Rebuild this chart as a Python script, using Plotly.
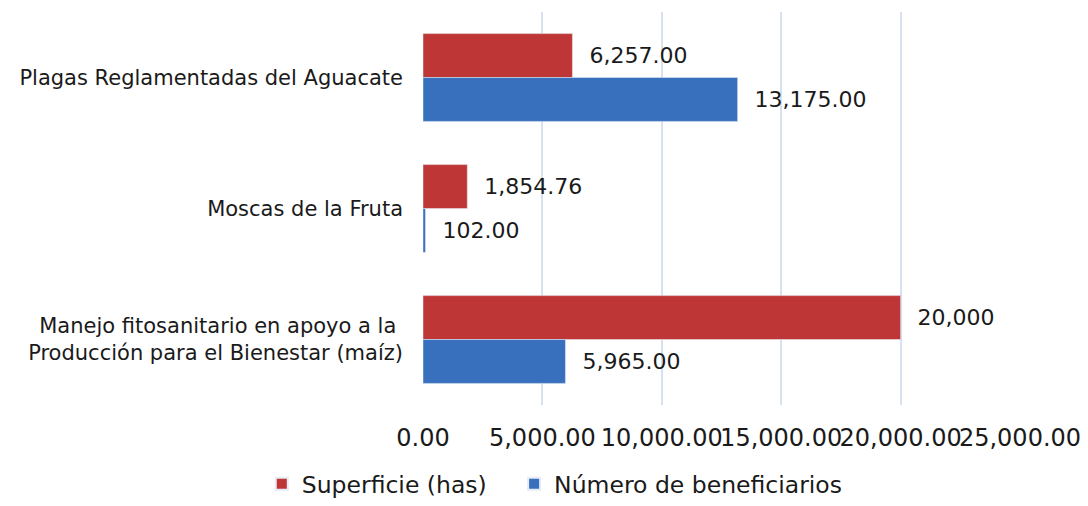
import plotly.graph_objects as go

categories = [
    "Plagas Reglamentadas del Aguacate",
    "Moscas de la Fruta",
    "Manejo fitosanitario en apoyo a la <br>Producción para el Bienestar (maíz)",
]
superficie = [6257.00, 1854.76, 20000]
beneficiarios = [13175.00, 102.00, 5965.00]
superficie_labels = ["6,257.00", "1,854.76", "20,000"]
beneficiarios_labels = ["13,175.00", "102.00", "5,965.00"]
series_names = ["Superficie (has)", "Número de beneficiarios"]
tick_vals = [0, 5000, 10000, 15000, 20000, 25000]
tick_text = ["0.00", "5,000.00", "10,000.00", "15,000.00", "20,000.00", "25,000.00"]

FONT = "DejaVu Sans"
NBSP = "\u00a0"
fig = go.Figure()
fig.add_trace(go.Bar(
    y=categories, x=superficie, orientation="h", name=series_names[0] + NBSP * 3,
    marker=dict(color="#bf3636"),
    text=["  " + t for t in superficie_labels], textposition="outside",
    textfont=dict(size=22, color="#1a1a1a", family=FONT), cliponaxis=False,
))
fig.add_trace(go.Bar(
    y=categories, x=beneficiarios, orientation="h", name=series_names[1],
    marker=dict(color="#3870bd"),
    text=["  " + t for t in beneficiarios_labels], textposition="outside",
    textfont=dict(size=22, color="#1a1a1a", family=FONT), cliponaxis=False,
))
fig.update_layout(
    width=1080, height=498,
    margin=dict(l=415, r=68, t=4, b=101),
    barmode="group", bargap=0.33, bargroupgap=0,
    plot_bgcolor="white", paper_bgcolor="white",
    font=dict(family=FONT, color="#1a1a1a"),
    legend=dict(orientation="h", xref="container", x=0.235, xanchor="left",
                yref="container", y=0.0, yanchor="bottom",
                tracegroupgap=0, itemsizing="constant",
                font=dict(size=23.5, family=FONT), traceorder="normal"),
)
fig.update_xaxes(
    range=[0, 25000], tickvals=tick_vals, ticktext=tick_text, tickangle=0,
    showgrid=True, gridcolor="#d6e2f0", gridwidth=2,
    zeroline=False, showline=False, automargin=False,
    tickfont=dict(size=24, family=FONT), ticklabelstandoff=16,
)
fig.update_yaxes(
    autorange="reversed", showgrid=False, zeroline=False, automargin=False,
    showline=False, tickfont=dict(size=21, family=FONT), ticklabelstandoff=19,
)
fig.write_html("out.html")
